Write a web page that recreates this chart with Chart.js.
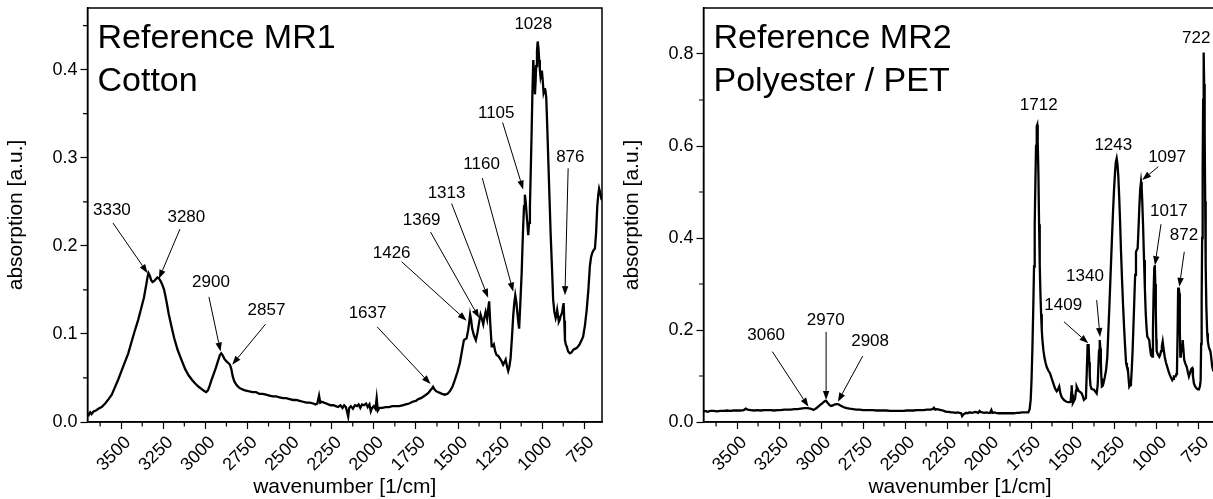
<!DOCTYPE html>
<html>
<head>
<meta charset="utf-8">
<title>FTIR reference spectra</title>
<script src="https://cdn.jsdelivr.net/npm/chart.js@4.4.1/dist/chart.umd.min.js"></script>
<style>
  html, body { margin: 0; padding: 0; background: #fff; overflow: hidden; width: 1213px; height: 499px; }
  .panel { position: absolute; top: 0; width: 610px; height: 499px; }
  #panelCotton { left: 0; }
  #panelPet { left: 616px; }
</style>
</head>
<body>
<div class="panel" id="panelCotton"><canvas id="cottonChart" width="610" height="499"></canvas></div>
<div class="panel" id="panelPet"><canvas id="petChart" width="610" height="499"></canvas></div>
<script>
// ---------- shared axis values ----------
const xTickValues = [3500, 3250, 3000, 2750, 2500, 2250, 2000, 1750, 1500, 1250, 1000, 750];
const xMinorValues = [3625, 3375, 3125, 2875, 2625, 2375, 2125, 1875, 1625, 1375, 1125, 875];
const xRange = [645, 3700];

// ---------- Reference MR1: cotton ----------
const cottonTitle = ['Reference MR1', 'Cotton'];
const cottonYTicks = [0.0, 0.1, 0.2, 0.3, 0.4];
const cottonYMinor = [0.05, 0.15, 0.25, 0.35, 0.45];
const cottonYMax = 0.47;
const cottonWavenumber = [
  3700,3692,3684,3676,3664,3650,3636,3616,3595,3575,3556,3538,3518,3498,3478,3458,3440,3420,3399,3380,
  3365,3352,3343,3338,3330,3322,3314,3305,3295,3285,3276,3266,3256,3245,3232,3218,3201,3185,3165,3141,
  3120,3100,3080,3062,3040,3020,3005,2995,2985,2975,2963,2950,2937,2924,2914,2906,2898,2888,2876,2864,
  2854,2846,2838,2828,2815,2800,2780,2765,2745,2720,2700,2680,2660,2640,2620,2600,2580,2560,2540,2520,
  2500,2480,2460,2440,2420,2400,2380,2360,2345,2335,2325,2318,2308,2296,2282,2270,2256,2240,2226,2212,
  2198,2186,2176,2166,2158,2152,2146,2136,2124,2112,2100,2090,2080,2070,2058,2046,2036,2026,2018,2010,
  2000,1990,1983,1976,1966,1950,1930,1910,1890,1870,1850,1830,1810,1790,1770,1750,1736,1720,1705,1690,
  1676,1664,1655,1648,1640,1630,1620,1607,1595,1578,1562,1548,1533,1518,1503,1489,1477,1465,1449,1440,
  1434,1428,1422,1416,1405,1394,1384,1374,1366,1358,1350,1343,1336,1327,1321,1315,1308,1300,1294,1287,
  1279,1271,1261,1251,1241,1232,1224,1217,1210,1202,1195,1188,1180,1172,1166,1160,1154,1149,1142,1137,
  1130,1122,1117,1113,1108,1103,1098,1093,1088,1083,1078,1073,1068,1063,1058,1053,1048,1043,1039,1036,
  1031,1027,1022,1018,1014,1010,1006,1002,997,992,988,984,980,976,970,964,957,950,942,935,
  928,920,915,911,906,901,896,891,886,881,876,873,869,865,860,855,846,836,826,816,
  806,796,786,776,766,757,746,736,726,717,710,703,695,687,680,673,667,662,655,647
];
const cottonAbsorbance = [
  0.010,0.008,0.011,0.009,0.012,0.013,0.015,0.017,0.021,0.026,0.031,0.039,0.048,0.058,0.068,0.078,0.090,0.103,0.116,0.130,
  0.141,0.155,0.165,0.169,0.166,0.161,0.159,0.160,0.162,0.164,0.163,0.160,0.156,0.150,0.138,0.123,0.108,0.095,0.082,0.070,
  0.060,0.053,0.048,0.044,0.040,0.037,0.035,0.034,0.036,0.041,0.048,0.055,0.062,0.070,0.076,0.078,0.076,0.072,0.069,0.067,
  0.065,0.060,0.052,0.046,0.042,0.039,0.037,0.036,0.035,0.034,0.034,0.032,0.032,0.031,0.030,0.029,0.029,0.028,0.027,0.027,
  0.026,0.025,0.025,0.024,0.023,0.022,0.022,0.021,0.020,0.021,0.030,0.022,0.023,0.022,0.021,0.020,0.019,0.019,0.018,0.017,
  0.019,0.016,0.019,0.017,0.011,0.006,0.016,0.018,0.015,0.019,0.018,0.020,0.016,0.020,0.019,0.021,0.017,0.020,0.012,0.016,
  0.018,0.015,0.027,0.013,0.016,0.016,0.017,0.017,0.018,0.018,0.018,0.019,0.020,0.021,0.023,0.024,0.026,0.027,0.029,0.031,
  0.033,0.036,0.038,0.040,0.037,0.035,0.034,0.033,0.032,0.031,0.032,0.035,0.040,0.048,0.057,0.067,0.080,0.093,0.095,0.104,
  0.112,0.122,0.116,0.106,0.098,0.093,0.102,0.114,0.122,0.117,0.111,0.119,0.125,0.117,0.128,0.137,0.110,0.086,0.086,0.088,
  0.080,0.076,0.075,0.072,0.069,0.065,0.068,0.071,0.064,0.058,0.063,0.072,0.095,0.121,0.135,0.144,0.137,0.127,0.113,0.106,
  0.135,0.169,0.200,0.222,0.245,0.258,0.250,0.237,0.225,0.212,0.226,0.245,0.285,0.328,0.375,0.411,0.395,0.372,0.388,0.404,
  0.421,0.432,0.424,0.411,0.400,0.392,0.396,0.399,0.388,0.374,0.377,0.379,0.375,0.368,0.335,0.298,0.256,0.214,0.175,0.139,
  0.125,0.118,0.122,0.127,0.120,0.114,0.116,0.120,0.122,0.125,0.132,0.135,0.115,0.093,0.088,0.086,0.080,0.078,0.079,0.082,
  0.083,0.084,0.086,0.089,0.093,0.097,0.110,0.127,0.150,0.177,0.187,0.192,0.195,0.197,0.215,0.245,0.258,0.265,0.260,0.252
];
const cottonPeaks = [3330, 3280, 2900, 2857, 1637, 1426, 1369, 1313, 1160, 1105, 1028, 876];
// label placement in axis units: text centre, arrow tail, arrow tip
const cottonPeakLayout = [
  { text: [3555, 0.240], tail: [3549, 0.226], tip: [3343, 0.169] },
  { text: [3113, 0.232], tail: [3151, 0.219], tip: [3276, 0.1625] },
  { text: [2967, 0.159], tail: [2979, 0.142], tip: [2910, 0.080] },
  { text: [2637, 0.127], tail: [2643, 0.111], tip: [2841, 0.065] },
  { text: [2037, 0.123], tail: [1980, 0.108], tip: [1663, 0.043] },
  { text: [1894, 0.192], tail: [1835, 0.182], tip: [1449, 0.115] },
  { text: [1716, 0.2295], tail: [1663, 0.2156], tip: [1374, 0.118] },
  { text: [1568, 0.260], tail: [1538, 0.248], tip: [1321, 0.141] },
  { text: [1360, 0.292], tail: [1356, 0.277], tip: [1172, 0.148] },
  { text: [1273, 0.351], tail: [1235, 0.340], tip: [1113, 0.264] },
  { text: [1053, 0.451] },
  { text: [833, 0.300], tail: [846, 0.288], tip: [865, 0.144] }
];

// ---------- Reference MR2: polyester / PET ----------
const petTitle = ['Reference MR2', 'Polyester / PET'];
const petYTicks = [0.0, 0.2, 0.4, 0.6, 0.8];
const petYMinor = [0.1, 0.3, 0.5, 0.7];
const petYMax = 0.9;
const petWavenumber = [
  3700,3690,3675,3660,3640,3620,3600,3580,3560,3540,3520,3500,3480,3460,3448,3438,3420,3400,3380,3360,
  3340,3320,3300,3280,3260,3240,3220,3200,3180,3160,3140,3120,3100,3080,3065,3055,3046,3036,3025,3015,
  3005,2995,2985,2975,2968,2960,2950,2940,2930,2920,2910,2900,2890,2880,2870,2858,2845,2830,2810,2790,
  2770,2750,2730,2710,2690,2670,2650,2630,2610,2590,2570,2550,2530,2510,2490,2470,2450,2430,2410,2390,
  2370,2350,2336,2328,2320,2310,2298,2286,2274,2262,2250,2238,2226,2214,2200,2188,2176,2166,2160,2154,
  2146,2136,2126,2116,2104,2092,2082,2072,2064,2056,2050,2040,2028,2016,2004,1994,1986,1980,1970,1958,
  1944,1930,1914,1900,1884,1868,1852,1836,1820,1806,1792,1780,1766,1758,1752,1747,1742,1737,1732,1728,
  1724,1720,1716,1713,1710,1706,1702,1698,1694,1690,1686,1682,1676,1670,1664,1657,1647,1637,1627,1617,
  1607,1597,1590,1582,1575,1567,1557,1548,1538,1528,1519,1514,1510,1508,1505,1501,1495,1488,1482,1478,
  1472,1465,1456,1448,1441,1435,1429,1423,1417,1413,1407,1403,1400,1396,1390,1382,1375,1367,1359,1353,
  1349,1345,1341,1337,1334,1331,1328,1324,1319,1311,1303,1296,1290,1283,1276,1269,1262,1256,1250,1245,
  1240,1235,1230,1225,1220,1214,1208,1202,1196,1190,1184,1179,1174,1169,1165,1160,1155,1150,1145,1140,
  1135,1130,1125,1120,1115,1110,1105,1100,1095,1091,1088,1083,1077,1072,1067,1062,1058,1052,1046,1041,
  1036,1031,1028,1024,1020,1016,1013,1010,1007,1004,1002,996,991,986,981,976,971,966,961,954,
  947,939,931,923,916,909,904,899,894,889,885,881,877,874,870,867,864,861,858,855,
  851,847,843,838,831,823,816,810,804,798,794,790,786,780,772,764,757,750,744,740,
  737,734,731,728,725,722,719,716,713,710,706,701,697,692,687,682,677,671,665,658,
  651,645
];
const petAbsorbance = [
  0.023,0.024,0.022,0.024,0.024,0.023,0.024,0.024,0.025,0.024,0.025,0.025,0.025,0.026,0.029,0.027,0.026,0.025,0.026,0.025,
  0.026,0.026,0.026,0.025,0.026,0.026,0.027,0.027,0.027,0.028,0.028,0.029,0.030,0.030,0.029,0.028,0.026,0.028,0.031,0.034,
  0.037,0.040,0.043,0.046,0.045,0.041,0.037,0.035,0.036,0.038,0.039,0.039,0.037,0.035,0.033,0.031,0.030,0.029,0.028,0.027,
  0.027,0.026,0.026,0.026,0.026,0.025,0.025,0.025,0.025,0.024,0.024,0.024,0.024,0.024,0.025,0.025,0.025,0.026,0.026,0.026,
  0.027,0.027,0.028,0.031,0.027,0.028,0.027,0.026,0.025,0.023,0.022,0.022,0.021,0.021,0.020,0.021,0.020,0.019,0.013,0.016,
  0.018,0.020,0.019,0.021,0.020,0.021,0.022,0.021,0.020,0.024,0.022,0.021,0.020,0.021,0.020,0.020,0.026,0.020,0.021,0.020,
  0.019,0.019,0.019,0.019,0.019,0.019,0.019,0.020,0.020,0.021,0.021,0.021,0.021,0.028,0.048,0.090,0.156,0.240,0.338,0.430,
  0.519,0.600,0.643,0.646,0.610,0.540,0.430,0.340,0.280,0.235,0.200,0.178,0.155,0.140,0.130,0.120,0.112,0.106,0.095,0.084,
  0.073,0.067,0.070,0.077,0.062,0.054,0.049,0.046,0.044,0.043,0.043,0.044,0.065,0.080,0.060,0.041,0.045,0.050,0.068,0.077,
  0.072,0.067,0.065,0.062,0.055,0.048,0.050,0.052,0.120,0.167,0.167,0.130,0.100,0.080,0.072,0.071,0.070,0.066,0.062,0.080,
  0.120,0.155,0.178,0.160,0.130,0.095,0.077,0.078,0.084,0.097,0.113,0.140,0.193,0.255,0.323,0.390,0.454,0.503,0.541,0.565,
  0.573,0.560,0.533,0.490,0.439,0.370,0.309,0.255,0.207,0.165,0.128,0.120,0.117,0.095,0.077,0.080,0.084,0.115,0.156,0.210,
  0.265,0.320,0.370,0.374,0.378,0.420,0.468,0.505,0.522,0.508,0.483,0.430,0.352,0.290,0.236,0.205,0.186,0.182,0.178,0.160,
  0.146,0.143,0.142,0.200,0.283,0.335,0.341,0.300,0.240,0.180,0.154,0.148,0.145,0.142,0.146,0.154,0.165,0.175,0.160,0.142,
  0.130,0.120,0.110,0.102,0.096,0.091,0.094,0.099,0.099,0.099,0.104,0.109,0.200,0.290,0.292,0.280,0.200,0.142,0.148,0.154,
  0.168,0.178,0.160,0.135,0.127,0.120,0.108,0.099,0.106,0.113,0.116,0.117,0.100,0.084,0.077,0.073,0.071,0.071,0.078,0.091,
  0.170,0.265,0.400,0.555,0.700,0.803,0.735,0.628,0.480,0.338,0.250,0.193,0.175,0.164,0.158,0.154,0.140,0.120,0.112,0.108,
  0.105,0.102
];
const petPeaks = [3060, 2970, 2908, 1712, 1409, 1340, 1243, 1097, 1017, 872, 722];
const petPeakLayout = [
  { text: [3327, 0.189], tail: [3290, 0.153], tip: [3075, 0.033] },
  { text: [2972, 0.222], tail: [2970, 0.196], tip: [2970, 0.048] },
  { text: [2708, 0.175], tail: [2752, 0.1435], tip: [2900, 0.044] },
  { text: [1704, 0.689] },
  { text: [1558, 0.254], tail: [1554, 0.218], tip: [1409, 0.171] },
  { text: [1429, 0.316], tail: [1359, 0.265], tip: [1339, 0.185] },
  { text: [1260, 0.602] },
  { text: [940, 0.576], tail: [992, 0.555], tip: [1088, 0.526] },
  { text: [929, 0.459], tail: [976, 0.430], tip: [1012, 0.341] },
  { text: [839, 0.4065], tail: [837.5, 0.370], tip: [867, 0.294] },
  { text: [766, 0.835] }
];

// ---------- drawing ----------
const FONT = '"Liberation Sans", Arial, Helvetica, sans-serif';
Chart.defaults.font.family = FONT;
Chart.defaults.color = '#000';

function drawArrow(ctx, x0, y0, x1, y1) {
  const ang = Math.atan2(y1 - y0, x1 - x0);
  const len = 9, half = 3.2;
  const bx = x1 - len * Math.cos(ang), by = y1 - len * Math.sin(ang);
  ctx.beginPath();
  ctx.moveTo(x0, y0);
  ctx.lineTo(bx, by);
  ctx.stroke();
  ctx.beginPath();
  ctx.moveTo(x1, y1);
  ctx.lineTo(bx + half * Math.sin(ang), by - half * Math.cos(ang));
  ctx.lineTo(bx - half * Math.sin(ang), by + half * Math.cos(ang));
  ctx.closePath();
  ctx.fill();
}

// frame, minor ticks, panel heading and peak labels
const panelDecor = {
  id: 'panelDecor',
  afterDatasetsDraw(chart, args, o) {
    const { ctx, chartArea: a, scales: { x, y } } = chart;
    ctx.save();
    ctx.strokeStyle = '#000';
    ctx.fillStyle = '#000';
    ctx.lineWidth = 1.5;
    ctx.strokeRect(a.left, a.top, a.right - a.left, a.bottom - a.top);

    ctx.lineWidth = 1.2;
    ctx.beginPath();
    o.minorX.forEach(v => {
      const p = x.getPixelForValue(v);
      ctx.moveTo(p, a.bottom);
      ctx.lineTo(p, a.bottom + 4.5);
    });
    o.minorY.forEach(v => {
      const p = y.getPixelForValue(v);
      ctx.moveTo(a.left, p);
      ctx.lineTo(a.left - 4.5, p);
    });
    ctx.stroke();

    ctx.font = '34px ' + FONT;
    ctx.textAlign = 'left';
    ctx.textBaseline = 'alphabetic';
    o.title.forEach((t, i) => ctx.fillText(t, a.left + 10, a.top + 40 + i * 43));

    ctx.font = '17px ' + FONT;
    ctx.textAlign = 'center';
    ctx.textBaseline = 'middle';
    ctx.lineWidth = 1;
    o.peaks.forEach((label, i) => {
      const L = o.layout[i];
      ctx.fillText(String(label), x.getPixelForValue(L.text[0]), y.getPixelForValue(L.text[1]));
      if (L.tip) {
        drawArrow(ctx,
          x.getPixelForValue(L.tail[0]), y.getPixelForValue(L.tail[1]),
          x.getPixelForValue(L.tip[0]), y.getPixelForValue(L.tip[1]));
      }
    });
    ctx.restore();
  }
};

function makePanel(canvasId, p) {
  const points = p.wn.map((w, i) => ({ x: w, y: p.abs[i] }));
  return new Chart(document.getElementById(canvasId), {
    type: 'line',
    data: {
      datasets: [{
        data: points,
        borderColor: '#000',
        borderWidth: 2.3,
        pointRadius: 0,
        tension: 0,
        fill: false
      }]
    },
    options: {
      responsive: false,
      animation: false,
      devicePixelRatio: 1,
      parsing: false,
      normalized: true,
      layout: { autoPadding: false, padding: { left: 0, top: 8, right: p.padRight, bottom: 0 } },
      plugins: {
        legend: { display: false },
        tooltip: { enabled: false },
        panelDecor: {
          minorX: xMinorValues, minorY: p.yMinor,
          title: p.title, peaks: p.peaks, layout: p.layout
        }
      },
      scales: {
        x: {
          type: 'linear',
          reverse: true,
          min: xRange[0],
          max: xRange[1],
          afterBuildTicks: s => { s.ticks = xTickValues.map(v => ({ value: v })); },
          afterFit: s => { s.height = 77; s.paddingLeft = 0; s.paddingRight = 0; },
          ticks: {
            autoSkip: false,
            minRotation: 45,
            maxRotation: 45,
            padding: 3,
            labelOffset: 7,
            font: { size: 18 },
            color: '#000',
            callback: v => String(v)
          },
          grid: { drawOnChartArea: false, drawTicks: true, tickLength: 7, tickColor: '#000', tickWidth: 1.2 },
          border: { display: true, color: '#000', width: 1.5 },
          title: { display: true, text: 'wavenumber [1/cm]', font: { size: 21 }, color: '#000', padding: { top: 0, bottom: -1 } }
        },
        y: {
          type: 'linear',
          min: 0,
          max: p.yMax,
          afterBuildTicks: s => { s.ticks = p.yTicks.map(v => ({ value: v })); },
          afterFit: s => { s.width = 87.5; s.paddingTop = 0; s.paddingBottom = 0; },
          ticks: {
            padding: 3,
            font: { size: 18 },
            color: '#000',
            callback: v => Number(v).toFixed(1)
          },
          grid: { drawOnChartArea: false, drawTicks: true, tickLength: 7, tickColor: '#000', tickWidth: 1.2 },
          border: { display: true, color: '#000', width: 1.5 },
          title: { display: true, text: 'absorption [a.u.]', font: { size: 21 }, color: '#000', padding: { top: 3.5, bottom: 0 } }
        }
      }
    },
    plugins: [panelDecor]
  });
}

makePanel('cottonChart', {
  wn: cottonWavenumber, abs: cottonAbsorbance, yMax: cottonYMax,
  yTicks: cottonYTicks, yMinor: cottonYMinor, title: cottonTitle,
  peaks: cottonPeaks, layout: cottonPeakLayout, padRight: 8
});
makePanel('petChart', {
  wn: petWavenumber, abs: petAbsorbance, yMax: petYMax,
  yTicks: petYTicks, yMinor: petYMinor, title: petTitle,
  peaks: petPeaks, layout: petPeakLayout, padRight: 9.4
});
</script>
</body>
</html>
